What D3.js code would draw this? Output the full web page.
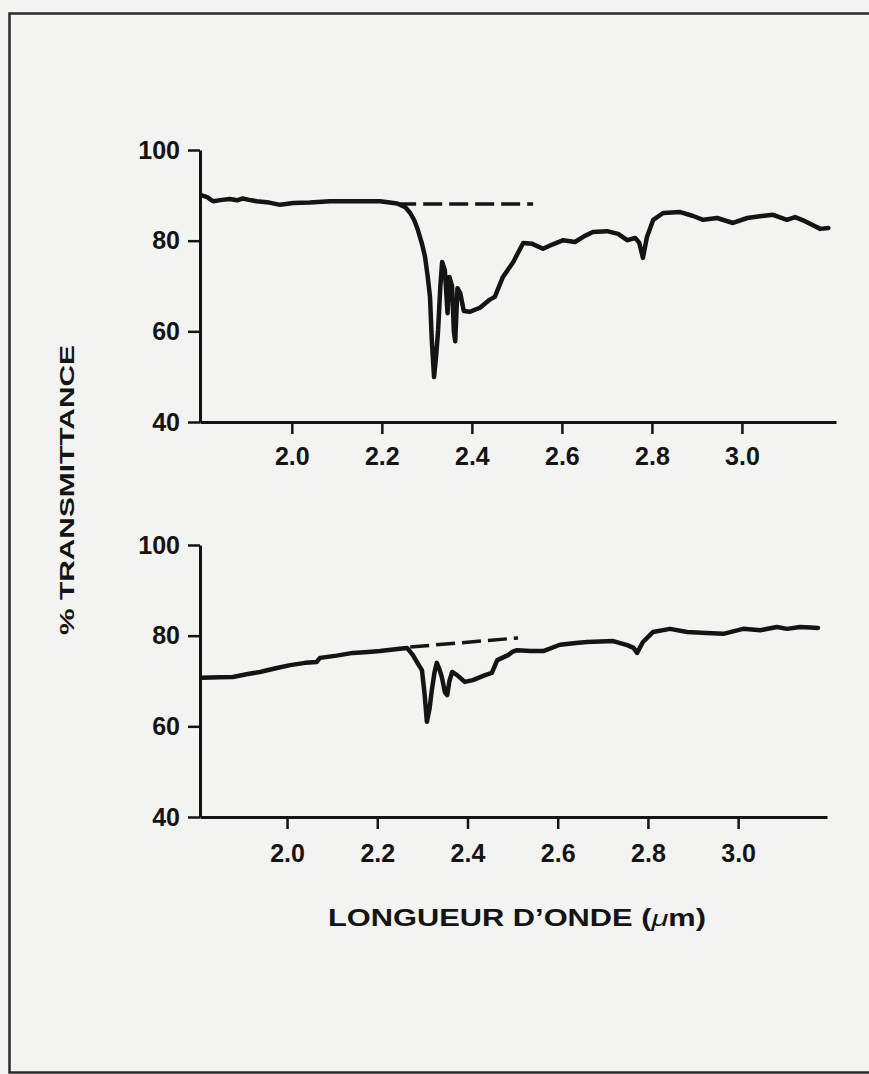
<!DOCTYPE html>
<html>
<head>
<meta charset="utf-8">
<script src="https://cdn.jsdelivr.net/npm/d3@7"></script>
<style>
  html, body { margin: 0; padding: 0; background: #f3f3f1; }
  svg { display: block; }
</style>
</head>
<body>
<svg id="chart" width="869" height="1074"></svg>
<script>
// ---- Data ----
const xTicks = [2.0, 2.2, 2.4, 2.6, 2.8, 3.0];
const xTickLabels = ["2.0", "2.2", "2.4", "2.6", "2.8", "3.0"];
const yTicks = [40, 60, 80, 100];
const yTickLabels = ["40", "60", "80", "100"];

const topWavelength = [1.800,1.812,1.825,1.845,1.862,1.878,1.891,1.905,1.922,1.950,1.974,2.003,2.040,2.085,2.140,2.196,2.234,2.252,2.263,2.272,2.280,2.290,2.296,2.302,2.307,2.311,2.316,2.321,2.325,2.330,2.334,2.340,2.346,2.350,2.356,2.360,2.363,2.368,2.374,2.382,2.395,2.418,2.440,2.451,2.469,2.492,2.514,2.534,2.558,2.580,2.603,2.629,2.650,2.669,2.700,2.725,2.745,2.763,2.772,2.780,2.789,2.803,2.825,2.863,2.890,2.914,2.945,2.980,3.012,3.040,3.069,3.100,3.118,3.140,3.158,3.174,3.192];
const topTransmittance = [90.0,89.6,88.7,89.0,89.2,88.9,89.3,89.0,88.7,88.4,87.9,88.3,88.4,88.7,88.7,88.7,88.2,87.4,86.1,84.5,82.4,79.0,76.4,72.0,67.6,58.0,49.9,55.0,60.3,70.0,75.3,73.5,64.0,72.0,70.0,60.0,57.8,69.5,68.5,64.5,64.3,65.2,67.0,67.6,72.0,75.3,79.5,79.3,78.2,79.2,80.1,79.7,81.0,81.9,82.1,81.5,80.1,80.6,79.5,76.2,80.8,84.6,86.1,86.3,85.5,84.6,85.0,83.9,85.0,85.4,85.7,84.6,85.2,84.3,83.4,82.6,82.8];
const topBaselineWavelength = [2.234, 2.536];
const topBaselineTransmittance = [88.1, 88.1];

const bottomWavelength = [1.811,1.850,1.880,1.910,1.940,1.975,2.007,2.040,2.066,2.073,2.110,2.146,2.180,2.206,2.240,2.266,2.279,2.292,2.299,2.305,2.310,2.316,2.321,2.327,2.332,2.338,2.343,2.350,2.355,2.360,2.366,2.377,2.394,2.412,2.439,2.454,2.466,2.490,2.499,2.510,2.540,2.568,2.605,2.640,2.665,2.723,2.754,2.768,2.776,2.789,2.811,2.849,2.887,2.930,2.967,3.011,3.049,3.086,3.109,3.137,3.160,3.177];
const bottomTransmittance = [70.7,70.8,70.9,71.5,72.0,72.8,73.5,74.0,74.2,75.1,75.6,76.2,76.4,76.6,77.0,77.3,75.7,73.5,72.4,67.0,61.0,64.0,68.0,72.0,74.0,72.5,70.9,67.5,66.9,70.0,72.0,71.3,69.8,70.2,71.3,71.8,74.6,75.7,76.4,76.8,76.6,76.6,78.0,78.4,78.6,78.8,77.9,77.3,76.2,78.6,80.8,81.5,80.8,80.6,80.4,81.5,81.2,81.9,81.5,81.9,81.8,81.7];
const bottomBaselineWavelength = [2.273, 2.512];
const bottomBaselineTransmittance = [77.5, 79.5];

// ---- Drawing ----
const svg = d3.select("#chart");
const INK = "#141414";
const FONT = "'Liberation Sans', Arial, Helvetica, sans-serif";

// outer frame
svg.append("rect")
  .attr("x", 9.5).attr("y", 13.5)
  .attr("width", 900).attr("height", 1059)
  .attr("fill", "none").attr("stroke", "#2a2a2a").attr("stroke-width", 2.5);

function panel(cfg) {
  const x = d3.scaleLinear().domain(cfg.xDomain).range(cfg.xRange);
  const y = d3.scaleLinear().domain([40, 100]).range(cfg.yRange);
  const g = svg.append("g");

  const yAxis = d3.axisLeft(y).tickValues(yTicks)
    .tickFormat((d, i) => yTickLabels[i]).tickSize(12).tickSizeOuter(0).tickPadding(8);
  const xAxis = d3.axisBottom(x).tickValues(xTicks)
    .tickFormat((d, i) => xTickLabels[i]).tickSize(12).tickSizeOuter(0).tickPadding(cfg.xPad);

  const gy = g.append("g").attr("transform", `translate(${cfg.xRange[0]},0)`).call(yAxis);
  const gx = g.append("g").attr("transform", `translate(0,${cfg.yRange[0]})`).call(xAxis);
  [gx, gy].forEach(a => {
    a.select(".domain").attr("stroke", INK).attr("stroke-width", 3);
    a.selectAll(".tick line").attr("stroke", INK).attr("stroke-width", 2.5);
    a.selectAll(".tick text").attr("fill", INK)
      .style("font-family", FONT).style("font-weight", "bold").style("font-size", "25px");
  });

  const line = d3.line().x(d => x(d[0])).y(d => y(d[1]));
  const pts = cfg.w.map((w, i) => [w, cfg.t[i]]);
  g.append("path").datum(pts).attr("d", line)
    .attr("fill", "none").attr("stroke", INK).attr("stroke-width", 4.5)
    .attr("stroke-linejoin", "round").attr("stroke-linecap", "round");

  const bpts = cfg.bw.map((w, i) => [w, cfg.bt[i]]);
  g.append("path").datum(bpts).attr("d", line)
    .attr("fill", "none").attr("stroke", INK).attr("stroke-width", 3.5)
    .attr("stroke-dasharray", "19,7");
}

panel({
  xDomain: [1.796, 3.209], xRange: [200, 836], yRange: [422, 150], xPad: 13,
  w: topWavelength, t: topTransmittance,
  bw: topBaselineWavelength, bt: topBaselineTransmittance
});
panel({
  xDomain: [1.807, 3.197], xRange: [200, 827], yRange: [817, 545], xPad: 15,
  w: bottomWavelength, t: bottomTransmittance,
  bw: bottomBaselineWavelength, bt: bottomBaselineTransmittance
});

// Y title
svg.append("text")
  .attr("transform", "translate(74,490) rotate(-90)")
  .attr("text-anchor", "middle")
  .attr("textLength", 290).attr("lengthAdjust", "spacingAndGlyphs")
  .attr("fill", INK)
  .style("font-family", FONT).style("font-weight", "bold").style("font-size", "20px")
  .text("% TRANSMITTANCE");

// X title
const xt = svg.append("text")
  .attr("x", 328).attr("y", 926)
  .attr("textLength", 378).attr("lengthAdjust", "spacingAndGlyphs")
  .attr("fill", INK)
  .style("font-family", FONT).style("font-weight", "bold").style("font-size", "23px");
xt.append("tspan").text("LONGUEUR D\u2019ONDE (");
xt.append("tspan").style("font-style", "italic").style("font-weight", "normal").text("\u03bc");
xt.append("tspan").text("m)");
</script>
</body>
</html>
